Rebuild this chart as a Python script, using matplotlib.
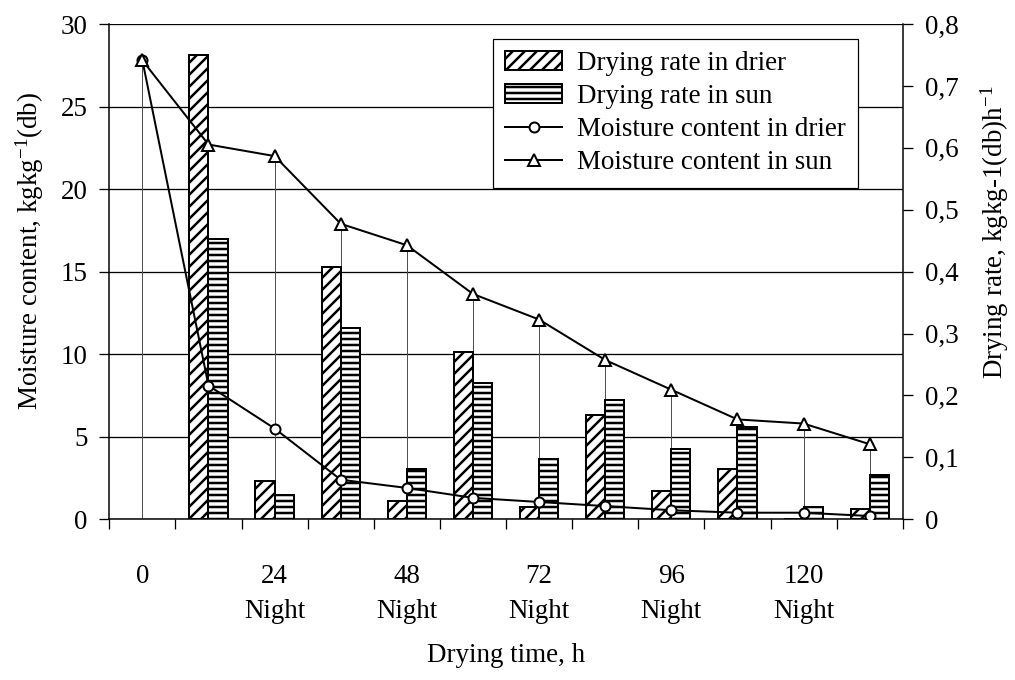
import matplotlib
matplotlib.use("Agg")
import matplotlib.pyplot as plt
from matplotlib.patches import Patch
from matplotlib.lines import Line2D
import numpy as np

plt.rcParams['font.family'] = ['Liberation Serif', 'DejaVu Serif']
plt.rcParams['mathtext.fontset'] = 'custom'
plt.rcParams['mathtext.rm'] = 'Liberation Serif'
plt.rcParams['mathtext.it'] = 'Liberation Serif:italic'
plt.rcParams['hatch.linewidth'] = 2.5
plt.rcParams['hatch.color'] = 'black'

# one reading every 12 h of drying
hours = [0, 12, 24, 36, 48, 60, 72, 84, 96, 108, 120, 132]
time_labels = ["0", "", "24\nNight", "", "48\nNight", "", "72\nNight", "",
               "96\nNight", "", "120\nNight", ""]

# moisture content, kg/kg (db)
mc_drier = [27.8, 8.1, 5.5, 2.4, 1.9, 1.3, 1.05, 0.8, 0.55, 0.4, 0.4, 0.2]
mc_sun = [27.8, 22.7, 22.0, 17.9, 16.6, 13.65, 12.1, 9.65, 7.85, 6.05, 5.8, 4.55]

# drying rate, kg/kg (db)/h, from the 12 h reading onwards
rate_drier = [0.75, 0.062, 0.408, 0.030, 0.270, 0.020, 0.169, 0.046, 0.081, 0.0, 0.017]
rate_sun = [0.452, 0.039, 0.309, 0.081, 0.220, 0.097, 0.192, 0.114, 0.149, 0.020, 0.072]

mc_ticks = [0, 5, 10, 15, 20, 25, 30]
rate_ticks = [0, 0.1, 0.2, 0.3, 0.4, 0.5, 0.6, 0.7, 0.8]
rate_tick_labels = ["0", "0,1", "0,2", "0,3", "0,4", "0,5", "0,6", "0,7", "0,8"]

FS = 27
x = np.arange(len(hours))
bar_w = 0.29

fig = plt.figure(figsize=(1015 / 72, 680 / 72), dpi=72)
ax = fig.add_axes([0.1077, 0.2363, 0.7817, 0.7284])

# moisture scale: grid and drop lines underneath the bars
ax.set_xlim(-0.5, len(hours) - 0.5)
ax.set_ylim(0, 30)
ax.set_yticks(mc_ticks)
ax.set_yticklabels([str(t) for t in mc_ticks])
ax.grid(axis='y', color='black', linewidth=1.3)
ax.set_axisbelow(True)
ax.vlines(x, 0, mc_sun, color='#505050', linewidth=1.0, zorder=1)

ax.set_xticks(np.arange(-0.5, len(hours), 1))
ax.set_xticklabels([])
ax.set_xticks(x, time_labels, minor=True)
for lbl in ax.get_xticklabels(minor=True):
    lbl.set_linespacing(1.5)
ax.tick_params(axis='x', which='major', length=10, width=1.3, direction='out')
ax.tick_params(axis='x', which='minor', length=0, pad=45, labelsize=FS)
ax.tick_params(axis='y', length=10, width=1.3, pad=12, labelsize=FS)
for side in ['top', 'right']:
    ax.spines[side].set_visible(False)
for side in ['left', 'bottom']:
    ax.spines[side].set_linewidth(1.5)

# drying rate bars on the right-hand scale
ax2 = ax.twinx()
ax2.set_ylim(0, 0.8)
ax2.bar(x[1:] - bar_w / 2, rate_drier, bar_w, facecolor='white',
        edgecolor='black', linewidth=2, hatch='//')
ax2.bar(x[1:] + bar_w / 2, rate_sun, bar_w, facecolor='white',
        edgecolor='black', linewidth=2, hatch='--')
ax2.set_yticks(rate_ticks)
ax2.set_yticklabels(rate_tick_labels)
ax2.tick_params(axis='y', length=10, width=1.3, pad=12, labelsize=FS)
for side in ['top', 'left', 'bottom']:
    ax2.spines[side].set_visible(False)
ax2.spines['right'].set_linewidth(1.5)

# moisture curves on top of everything
ax3 = ax.twinx()
ax3.set_ylim(0, 30)
ax3.axis('off')
ax3.plot(x, mc_drier, color='black', linewidth=2, marker='o', markersize=10,
         markerfacecolor='white', markeredgecolor='black', markeredgewidth=2)
ax3.plot(x, mc_sun, color='black', linewidth=2, marker='^', markersize=12,
         markerfacecolor='white', markeredgecolor='black', markeredgewidth=2)

handles = [
    Patch(facecolor='white', edgecolor='black', linewidth=2, hatch='//'),
    Patch(facecolor='white', edgecolor='black', linewidth=2, hatch='--'),
    Line2D([], [], color='black', linewidth=2, marker='o', markersize=10,
           markerfacecolor='white', markeredgewidth=2),
    Line2D([], [], color='black', linewidth=2, marker='^', markersize=12,
           markerfacecolor='white', markeredgewidth=2),
]
labels = ["Drying rate in drier", "Drying rate in sun",
          "Moisture content in drier", "Moisture content in sun"]
leg = ax3.legend(handles, labels, loc='upper left',
                 bbox_to_anchor=(493 / 1015, 1 - 39 / 680),
                 bbox_transform=fig.transFigure, borderaxespad=0,
                 fontsize=FS, frameon=True, fancybox=False, framealpha=1,
                 edgecolor='black', borderpad=0.45, handlelength=2.1,
                 handletextpad=0.55, labelspacing=0.3)
leg.get_frame().set_linewidth(1.2)

fig.text(30 / 1015, 1 - 251 / 680, "Moisture content, kgkg$^{-1}$(db)",
         rotation=90, ha='center', va='center', fontsize=FS)
fig.text(995 / 1015, 1 - 232 / 680, "Drying rate, kgkg-1(db)h$^{-1}$",
         rotation=90, ha='center', va='center', fontsize=FS)
fig.text(0.4986, 1 - 655 / 680, "Drying time, h", ha='center', va='center',
         fontsize=FS)

fig.savefig("out.png", dpi=72)
